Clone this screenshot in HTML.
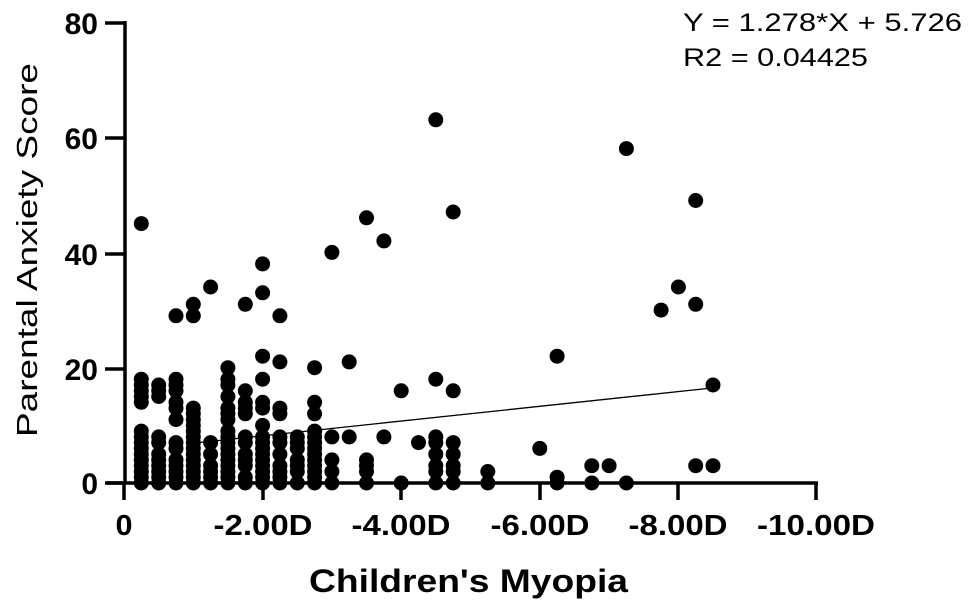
<!DOCTYPE html>
<html><head><meta charset="utf-8"><style>
html,body{margin:0;padding:0;background:#fff;}
svg{display:block;}
text{font-family:"Liberation Sans",Arial,sans-serif;fill:#000;}
</style></head><body>
<svg id="s" width="970" height="610" viewBox="0 0 970 610" xmlns="http://www.w3.org/2000/svg">
<rect width="970" height="610" fill="#fff"/>
<g id="dots" fill="#000"></g>
<line x1="195" y1="443" x2="712" y2="388" stroke="#000" stroke-width="1.3"/>
<g stroke="#000" stroke-width="3.5" fill="none">
<line x1="125" y1="21" x2="125" y2="484"/>
<line x1="107" y1="483" x2="818" y2="483"/>
<line x1="105" y1="23" x2="125" y2="23"/>
<line x1="105" y1="138" x2="125" y2="138"/>
<line x1="105" y1="254" x2="125" y2="254"/>
<line x1="105" y1="369" x2="125" y2="369"/>
<line x1="105" y1="483" x2="125" y2="483"/>
<line x1="124" y1="483" x2="124" y2="500"/>
<line x1="263" y1="483" x2="263" y2="500"/>
<line x1="401" y1="483" x2="401" y2="500"/>
<line x1="540" y1="483" x2="540" y2="500"/>
<line x1="678" y1="483" x2="678" y2="500"/>
<line x1="816" y1="483" x2="816" y2="500"/>
</g>
<g font-weight="bold" font-size="30" text-anchor="end">
<text x="98" y="34">80</text>
<text x="98" y="149">60</text>
<text x="98" y="265">40</text>
<text x="98" y="380">20</text>
<text x="98" y="494">0</text>
</g>
<g font-weight="bold" font-size="29" text-anchor="middle">
<text x="124" y="535" textLength="17" lengthAdjust="spacingAndGlyphs">0</text>
<text x="263" y="535" textLength="99" lengthAdjust="spacingAndGlyphs">-2.00D</text>
<text x="401" y="535" textLength="99" lengthAdjust="spacingAndGlyphs">-4.00D</text>
<text x="540" y="535" textLength="99" lengthAdjust="spacingAndGlyphs">-6.00D</text>
<text x="678" y="535" textLength="99" lengthAdjust="spacingAndGlyphs">-8.00D</text>
<text x="816" y="535" textLength="118" lengthAdjust="spacingAndGlyphs">-10.00D</text>
</g>
<text x="309" y="592" font-weight="bold" font-size="32" textLength="319" lengthAdjust="spacingAndGlyphs">Children's Myopia</text>
<text transform="translate(37,437) rotate(-90)" font-size="29" textLength="374" lengthAdjust="spacingAndGlyphs">Parental Anxiety Score</text>
<text x="683" y="31" font-size="25" textLength="279" lengthAdjust="spacingAndGlyphs">Y = 1.278*X + 5.726</text>
<text x="683" y="66" font-size="25" textLength="185" lengthAdjust="spacingAndGlyphs">R2 = 0.04425</text>
</svg>
<script>
var d={0.25:[0,1,2,3,4,5,6,7,8,9,14,15,16,17,18,45],0.5:[0,1,2,3,4,5,7,8,15,16,17],0.75:[0,1,2,3,4,6,7,11,13,14,16,17,18,29],
1:[0,1,2,3,4,5,6,7,8,9,10,11,12,13,29,31],1.25:[0,1,2,3,5,7,34],1.5:[0,1,2,3,4,5,6,7,8,9,11,12,13,15,17,18,20],
1.75:[0,1,3,4,5,7,8,12,13,14,16,31],2:[0,1,2,3,4,5,6,7,8,10,13,14,18,22,33,38],2.25:[0,1,2,3,5,7,8,12,13,21,29],
2.5:[0,2,3,4,6,7,8],2.75:[0,1,2,3,4,5,6,7,8,9,12,14,20],3:[0,2,4,8,40],3.25:[8,21],3.5:[0,2,3,4,46],3.75:[8,42],
4:[0,16],4.25:[7],4.5:[0,2,3,5,7,8,18,63],4.75:[0,2,3,5,7,16,47],5.25:[0,2],6:[6],6.25:[0,1,22],6.75:[0,3],7:[3],
7.25:[0,58],7.75:[30],8:[34],8.25:[3,31,49],8.5:[3,17]};
var g=document.getElementById('dots'),h='';
for(var k in d){var x=124+69.3*parseFloat(k);d[k].forEach(function(v){h+='<circle cx="'+x.toFixed(1)+'" cy="'+(483-5.765*v).toFixed(1)+'" r="7.5"/>';});}
g.innerHTML=h;
</script>
</body></html>
